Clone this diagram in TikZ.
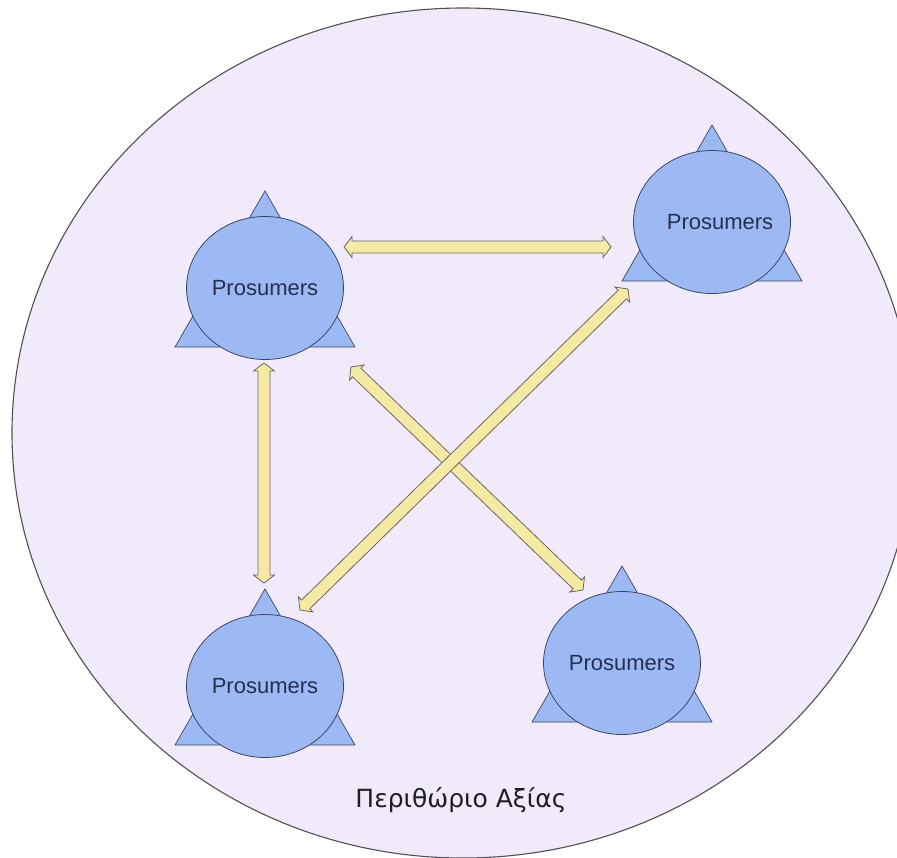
\documentclass[tikz,border=0pt]{standalone}
\usepackage{fontspec}
\setmainfont{Liberation Sans}
\newfontfamily\labelfont{DejaVu Sans}
\usetikzlibrary{calc,shapes.geometric}

\definecolor{fieldfill}{HTML}{F1EAFB}
\definecolor{fieldline}{HTML}{505050}
\definecolor{agentfill}{HTML}{9DB9F3}
\definecolor{agentline}{HTML}{3A4668}
\definecolor{agenttext}{HTML}{243052}
\definecolor{flowfill}{HTML}{F4EAA4}
\definecolor{flowline}{HTML}{6E6464}

\newcommand\arhl{8pt}   % head length
\newcommand\arhw{10.5pt}% head half width
\newcommand\arsw{6pt}   % shaft half width

% double-headed block arrow between two named points
\newcommand\blockarrow[2]{%
  \draw[flow] (#1)
    -- ($(#1)!\arhl!(#2)!\arhw!90:(#2)$)
    -- ($(#1)!\arhl!(#2)!\arsw!90:(#2)$)
    -- ($(#2)!\arhl!(#1)!\arsw!-90:(#1)$)
    -- ($(#2)!\arhl!(#1)!\arhw!-90:(#1)$)
    -- (#2)
    -- ($(#2)!\arhl!(#1)!\arhw!90:(#1)$)
    -- ($(#2)!\arhl!(#1)!\arsw!90:(#1)$)
    -- ($(#1)!\arhl!(#2)!\arsw!-90:(#2)$)
    -- ($(#1)!\arhl!(#2)!\arhw!-90:(#2)$)
    -- cycle;}

% prosumer: triangle behind an ellipse
\newcommand\prosumer[2]{%
  \filldraw[agenttri] ($(#1)+(-90,59)$) -- ($(#1)+(0,-97)$) -- ($(#1)+(90,59)$) -- cycle;
  \node[agent] (#2) at (#1) {};}

\tikzset{
  field/.style={fill=fieldfill, draw=fieldline, line width=1.1pt},
  agent/.style={ellipse, minimum width=157pt, minimum height=143pt, inner sep=0pt,
    fill=agentfill, draw=agentline, line width=0.8pt},
  agenttri/.style={fill=agentfill, draw=agentline, line width=0.7pt, line join=miter},
  agentlabel/.style={text=agenttext, font=\fontsize{22}{26}\selectfont},
  flow/.style={fill=flowfill, draw=flowline, line width=0.8pt, line join=miter},
  fieldlabel/.style={text=black!88, font=\labelfont\fontsize{25}{30}\selectfont},
}

\begin{document}
\begin{tikzpicture}[x=1pt, y=-1pt]
  \useasboundingbox (0,0) rectangle (897,857);
  \fill[white] (0,0) rectangle (897,857);

  % value field
  \begin{scope}
    \clip (0,0) rectangle (897,857);
    \draw[field] (463,433) ellipse [x radius=451, y radius=425];
  \end{scope}
  \node[fieldlabel] (margin) at (461,800) {Περιθώριο Αξίας};

  % prosumers
  \coordinate (c1) at (265,288);
  \coordinate (c2) at (712,222);
  \coordinate (c3) at (265,686);
  \coordinate (c4) at (622,663);
  \prosumer{c1}{p1}
  \prosumer{c2}{p2}
  \prosumer{c3}{p3}
  \prosumer{c4}{p4}
  \node[agentlabel] (t1) at (p1) {Prosumers};
  \node[agentlabel] (t2) at ($(p2)+(8,0)$) {Prosumers};
  \node[agentlabel] (t3) at (p3) {Prosumers};
  \node[agentlabel] (t4) at (p4) {Prosumers};

  % exchange flows
  \coordinate (h1) at (344,247);  \coordinate (h2) at (611,247);
  \coordinate (v1) at (264,363);  \coordinate (v2) at (264,583);
  \coordinate (d1) at (351,367);  \coordinate (d2) at (583,590);
  \coordinate (e1) at (300,610);  \coordinate (e2) at (628,289);
  \blockarrow{h1}{h2}
  \blockarrow{v1}{v2}
  \blockarrow{d1}{d2}
  \blockarrow{e1}{e2}
\end{tikzpicture}
\end{document}
